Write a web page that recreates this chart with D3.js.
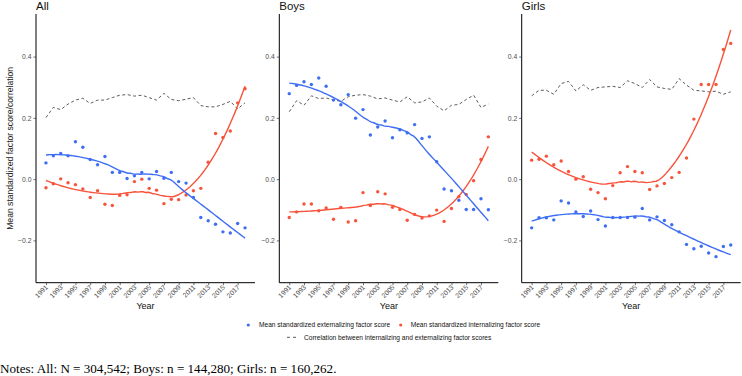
<!DOCTYPE html>
<html>
<head>
<meta charset="utf-8">
<script src="https://d3js.org/d3.v7.min.js"></script>
<style>
  body { margin: 0; background: #fff; }
  svg { font-family: Arial, "Liberation Sans", sans-serif; }
</style>
</head>
<body>
<div id="container"></div>
<script>
// years on the x axis
var years = d3.range(1991, 2019);
var yearTicks = d3.range(1991, 2019, 2);
var yTicks = [-0.2, 0.0, 0.2, 0.4];

// All
var allExt = [0.053,0.076,0.084,0.076,0.122,0.104,0.064,0.047,0.074,0.022,0.022,0.002,0.011,0.022,0.001,0.025,0.003,0.022,-0.008,-0.013,-0.060,-0.125,-0.136,-0.147,-0.172,-0.176,-0.145,-0.159];
var allInt = [-0.028,-0.015,0.001,-0.012,-0.018,-0.032,-0.060,-0.038,-0.082,-0.086,-0.053,-0.051,-0.008,0.000,-0.030,-0.036,-0.080,-0.066,-0.067,-0.052,-0.038,-0.030,0.055,0.149,0.136,0.157,0.249,0.295];
var allCor = [0.201,0.234,0.227,0.245,0.258,0.264,0.247,0.258,0.258,0.266,0.274,0.276,0.271,0.274,0.266,0.258,0.280,0.260,0.256,0.261,0.266,0.240,0.236,0.236,0.244,0.254,0.229,0.249];

// Boys
var boysExt = [0.279,0.306,0.318,0.309,0.330,0.303,0.258,0.243,0.276,0.199,0.227,0.144,0.170,0.190,0.135,0.161,0.151,0.178,0.133,0.138,0.057,-0.032,-0.038,-0.069,-0.099,-0.099,-0.064,-0.100];
var boysInt = [-0.125,-0.107,-0.081,-0.081,-0.103,-0.094,-0.131,-0.092,-0.140,-0.136,-0.044,-0.086,-0.041,-0.048,-0.092,-0.099,-0.134,-0.115,-0.127,-0.120,-0.101,-0.138,-0.096,-0.057,-0.050,-0.005,0.064,0.138];
var boysCor = [0.220,0.256,0.241,0.272,0.263,0.265,0.258,0.254,0.269,0.274,0.276,0.271,0.262,0.265,0.258,0.252,0.269,0.249,0.252,0.265,0.238,0.223,0.241,0.244,0.260,0.274,0.234,0.245];

// Girls
var girlsExt = [-0.159,-0.126,-0.126,-0.133,-0.071,-0.078,-0.107,-0.122,-0.104,-0.132,-0.153,-0.125,-0.125,-0.125,-0.124,-0.096,-0.133,-0.123,-0.135,-0.149,-0.172,-0.213,-0.227,-0.219,-0.241,-0.253,-0.220,-0.215];
var girlsInt = [0.062,0.065,0.075,0.047,0.059,0.025,0.000,0.008,-0.033,-0.044,-0.064,-0.021,0.021,0.041,0.025,0.021,-0.034,-0.022,-0.014,0.005,0.022,0.069,0.196,0.309,0.309,0.309,0.423,0.443];
var girlsCor = [0.272,0.290,0.290,0.277,0.312,0.319,0.288,0.308,0.290,0.299,0.301,0.303,0.299,0.321,0.312,0.299,0.325,0.301,0.296,0.293,0.328,0.307,0.290,0.288,0.285,0.287,0.277,0.285];

var panelNames = ["All", "Boys", "Girls"];
var panelExt = [allExt, boysExt, girlsExt];
var panelInt = [allInt, boysInt, girlsInt];
var panelCor = [allCor, boysCor, girlsCor];

var blue = "#3e6ef4", red = "#f8533b";
var width = 742, height = 376;
var panelLeft = [36, 279.3, 521.7], panelW = 219;
var plotTop = 14, plotBottom = 282.7;
var span = 0.75;

// local quadratic loess (tricube weights), like geom_smooth
function loess(xs, ys, span, x0) {
    var n = xs.length, q = Math.max(3, Math.floor(span * n));
    var d = xs.map(function(x){ return Math.abs(x - x0); });
    var maxD = d.slice().sort(function(a,b){return a-b;})[q - 1] * 1.0001;
    var S = [[0,0,0],[0,0,0],[0,0,0]], B = [0,0,0];
    for (var i = 0; i < n; i++) {
        var u = d[i] / maxD;
        if (u >= 1) continue;
        var w = Math.pow(1 - u*u*u, 3);
        var t = xs[i] - x0, v = [1, t, t*t];
        for (var a = 0; a < 3; a++) {
            B[a] += w * v[a] * ys[i];
            for (var b = 0; b < 3; b++) S[a][b] += w * v[a] * v[b];
        }
    }
    // solve 3x3 (gaussian)
    var M = S.map(function(r, k){ return r.concat([B[k]]); });
    for (var c = 0; c < 3; c++) {
        var p = c;
        for (var r = c+1; r < 3; r++) if (Math.abs(M[r][c]) > Math.abs(M[p][c])) p = r;
        var tmp = M[c]; M[c] = M[p]; M[p] = tmp;
        for (var r2 = 0; r2 < 3; r2++) {
            if (r2 === c) continue;
            var f = M[r2][c] / M[c][c];
            for (var k = c; k < 4; k++) M[r2][k] -= f * M[c][k];
        }
    }
    return M[0][3] / M[0][0];
}

var svg = d3.select("#container").append("svg")
    .attr("width", width).attr("height", height);

var y = d3.scaleLinear().domain([-0.338, 0.539]).range([plotBottom, plotTop]);

// y axis title
svg.append("text")
    .attr("transform", "translate(13," + ((plotTop + plotBottom) / 2) + ") rotate(-90)")
    .attr("text-anchor", "middle")
    .attr("font-size", 8.6)
    .attr("fill", "#222")
    .text("Mean standardized factor score/correlation");

panelNames.forEach(function(name, p) {
    var x = d3.scaleLinear().domain([1989.65, 2019.35]).range([panelLeft[p], panelLeft[p] + panelW]);
    var g = svg.append("g");

    // panel title
    g.append("text")
        .attr("x", panelLeft[p]).attr("y", 9.5)
        .attr("font-size", 11.5)
        .attr("fill", "#111")
        .text(name);

    // axes
    var axY = g.append("g")
        .attr("transform", "translate(" + panelLeft[p] + ",0)")
        .call(d3.axisLeft(y).tickValues(yTicks).tickFormat(d3.format(".1f")).tickSize(2.5).tickPadding(2));
    var axX = g.append("g")
        .attr("transform", "translate(0," + plotBottom + ")")
        .call(d3.axisBottom(x).tickValues(yearTicks).tickFormat(d3.format("d")).tickSize(2.5).tickPadding(2));
    [axX, axY].forEach(function(ax) {
        ax.select(".domain").attr("stroke", "#000").attr("stroke-width", 1);
        ax.selectAll(".tick line").attr("stroke", "#333").attr("stroke-width", 0.7);
        ax.selectAll("text").attr("font-size", 6.8).attr("fill", "#4d4d4d").attr("font-family", "Arial, 'Liberation Sans', sans-serif");
    });
    axY.select(".domain").attr("d", "M0," + plotTop + "V" + plotBottom);
    axX.select(".domain").attr("d", "M" + panelLeft[p] + ",0H" + (panelLeft[p] + panelW));
    axX.selectAll(".tick text")
        .attr("text-anchor", "end")
        .attr("dy", null).attr("y", null)
        .attr("transform", "translate(2,5) rotate(-45)");

    // x axis title
    g.append("text")
        .attr("x", panelLeft[p] + panelW / 2).attr("y", 309)
        .attr("text-anchor", "middle")
        .attr("font-size", 9)
        .attr("fill", "#111")
        .text("Year");

    // correlation line (dashed)
    var line = d3.line().x(function(d, i){ return x(years[i]); }).y(function(d){ return y(d); });
    g.append("path")
        .datum(panelCor[p])
        .attr("d", line)
        .attr("fill", "none")
        .attr("stroke", "#333")
        .attr("stroke-width", 0.8)
        .attr("stroke-dasharray", "3,2.5");

    // smooth fits + points
    [[panelInt[p], red], [panelExt[p], blue]].forEach(function(s) {
        var vals = s[0], col = s[1];
        var grid = d3.range(0, 81).map(function(k){ return 1991 + k * 27 / 80; });
        var fit = grid.map(function(gx){ return [gx, loess(years, vals, span, gx)]; });
        g.append("path")
            .datum(fit)
            .attr("d", d3.line().x(function(d){ return x(d[0]); }).y(function(d){ return y(d[1]); }))
            .attr("fill", "none")
            .attr("stroke", col)
            .attr("stroke-width", 1.4);
        g.selectAll(null)
            .data(vals)
            .enter()
            .append("circle")
            .attr("cx", function(d, i){ return x(years[i]); })
            .attr("cy", function(d){ return y(d); })
            .attr("r", 1.7)
            .attr("fill", col);
    });
});

// legend
var leg = svg.append("g").attr("font-size", 6.6).attr("fill", "#111");
leg.append("circle").attr("cx", 248.3).attr("cy", 325).attr("r", 1.6).attr("fill", blue);
leg.append("text").attr("x", 259).attr("y", 327.3).text("Mean standardized externalizing factor score");
leg.append("circle").attr("cx", 400.7).attr("cy", 325).attr("r", 1.6).attr("fill", red);
leg.append("text").attr("x", 410.7).attr("y", 327.3).text("Mean standardized internalizing factor score");
leg.append("line").attr("x1", 287).attr("x2", 299).attr("y1", 337.3).attr("y2", 337.3)
    .attr("stroke", "#333").attr("stroke-width", 0.8).attr("stroke-dasharray", "3,3");
leg.append("text").attr("x", 304).attr("y", 339.6).text("Correlation between internalizing and externalizing factor scores");

// notes
svg.append("text")
    .attr("x", 0).attr("y", 372.7)
    .attr("font-family", "'Liberation Serif', 'Times New Roman', serif")
    .attr("font-size", 13.1)
    .attr("fill", "#000")
    .text("Notes: All: N = 304,542; Boys: n = 144,280; Girls: n = 160,262.");
</script>
</body>
</html>
